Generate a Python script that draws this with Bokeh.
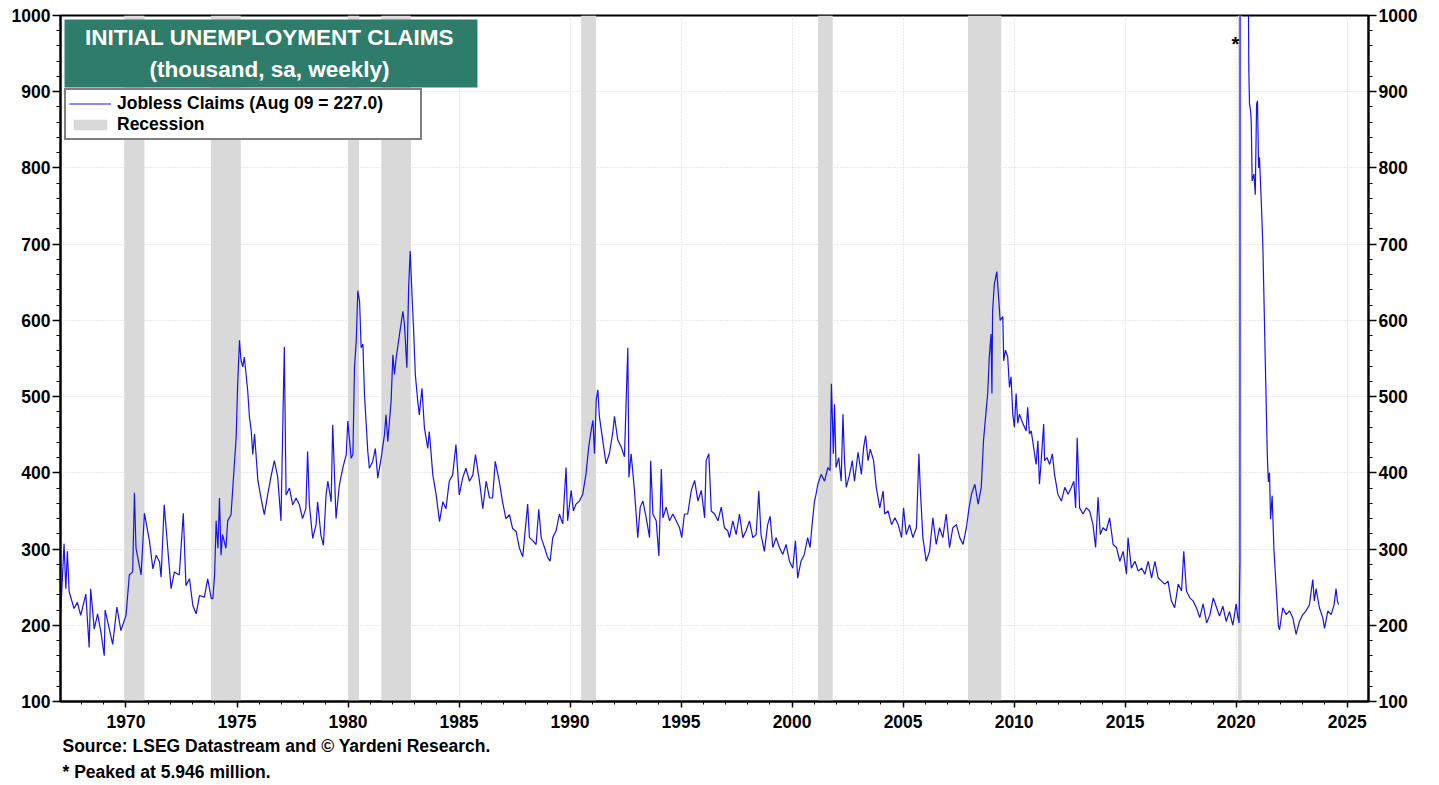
from bokeh.plotting import figure
from bokeh.models import (Range1d, LinearAxis, FixedTicker, BoxAnnotation, Label,
                          Legend, LegendItem, Title)
from bokeh.embed import file_html
from bokeh.resources import INLINE

# ---------------- data (thousand, sa, weekly) ----------------
claims_1967_1979 = [
    (1967.02, 205), (1967.06, 217), (1967.21, 307), (1967.29, 248), (1967.36, 297), (1967.44, 244),
    (1967.66, 222), (1967.81, 230), (1967.96, 213), (1968.19, 241), (1968.34, 171), (1968.41, 248),
    (1968.57, 195), (1968.72, 215), (1968.87, 191), (1969.02, 160), (1969.06, 220), (1969.25, 195),
    (1969.40, 175), (1969.59, 224), (1969.77, 193), (1970.00, 213), (1970.15, 266), (1970.30, 270),
    (1970.38, 374), (1970.45, 301), (1970.68, 266), (1970.83, 347), (1971.06, 310), (1971.21, 274),
    (1971.36, 292), (1971.51, 283), (1971.58, 263), (1971.72, 358), (1971.88, 301), (1972.03, 248),
    (1972.18, 270), (1972.40, 266), (1972.58, 347), (1972.70, 252), (1972.86, 261), (1973.01, 226),
    (1973.16, 215), (1973.31, 239), (1973.53, 237), (1973.68, 261), (1973.84, 235), (1973.91, 235),
    (1973.99, 266), (1974.06, 337), (1974.14, 301), (1974.21, 367), (1974.28, 292), (1974.35, 319),
    (1974.50, 301), (1974.58, 337), (1974.73, 345), (1974.88, 411), (1974.96, 446), (1975.03, 517),
    (1975.11, 574), (1975.18, 548), (1975.26, 539), (1975.33, 552), (1975.48, 508), (1975.56, 473),
    (1975.64, 455), (1975.71, 424), (1975.79, 451), (1975.94, 390), (1976.08, 367), (1976.23, 345),
    (1976.38, 371), (1976.53, 395), (1976.68, 416), (1976.83, 395), (1976.98, 337), (1977.13, 565),
    (1977.21, 371), (1977.36, 380), (1977.51, 358), (1977.66, 367), (1977.81, 358), (1977.95, 340),
    (1978.10, 353), (1978.18, 428), (1978.26, 358), (1978.41, 314), (1978.56, 332), (1978.63, 362),
    (1978.78, 318), (1978.89, 305), (1979.01, 371), (1979.09, 389), (1979.24, 362), (1979.31, 463),
    (1979.46, 340), (1979.61, 384), (1979.76, 406), (1979.92, 424),
]
claims_1980s = [
    (1979.99, 468), (1980.14, 419), (1980.22, 424), (1980.29, 538), (1980.37, 573), (1980.44, 639),
    (1980.52, 625), (1980.59, 564), (1980.67, 569), (1980.74, 503), (1980.82, 463), (1980.89, 428),
    (1980.96, 406), (1981.11, 415), (1981.23, 432), (1981.34, 393), (1981.49, 419), (1981.64, 450),
    (1981.71, 476), (1981.79, 441), (1981.94, 494), (1982.02, 555), (1982.09, 529), (1982.17, 551),
    (1982.32, 582), (1982.47, 612), (1982.54, 595), (1982.65, 538), (1982.73, 643), (1982.80, 691),
    (1982.88, 634), (1982.95, 590), (1983.03, 529), (1983.14, 494), (1983.21, 476), (1983.33, 511),
    (1983.44, 459), (1983.59, 432), (1983.66, 454), (1983.82, 397), (1983.97, 371), (1984.12, 336),
    (1984.27, 362), (1984.41, 353), (1984.56, 389), (1984.71, 397), (1984.86, 437), (1985.01, 371),
    (1985.16, 393), (1985.31, 406), (1985.47, 389), (1985.62, 397), (1985.74, 424), (1985.92, 389),
    (1986.07, 353), (1986.22, 389), (1986.37, 367), (1986.51, 367), (1986.63, 415), (1986.81, 389),
    (1986.96, 362), (1987.11, 340), (1987.27, 345), (1987.41, 327), (1987.57, 323), (1987.72, 301),
    (1987.87, 290), (1988.09, 359), (1988.17, 315), (1988.32, 311), (1988.47, 306), (1988.59, 352),
    (1988.70, 315), (1988.85, 302), (1988.99, 289), (1989.10, 284), (1989.22, 315), (1989.37, 324),
    (1989.52, 346), (1989.67, 333), (1989.82, 407), (1989.89, 337),
]
claims_1990s = [
    (1990.05, 377), (1990.15, 350), (1990.27, 359), (1990.42, 363), (1990.57, 372), (1990.72, 399),
    (1990.84, 434), (1990.95, 456), (1991.03, 469), (1991.10, 425), (1991.18, 496), (1991.25, 509),
    (1991.32, 474), (1991.47, 443), (1991.62, 412), (1991.77, 425), (1991.92, 452), (1992.00, 474),
    (1992.15, 443), (1992.30, 434), (1992.45, 421), (1992.60, 564), (1992.65, 394), (1992.75, 425),
    (1992.90, 377), (1993.05, 315), (1993.16, 355), (1993.28, 363), (1993.43, 341), (1993.58, 315),
    (1993.63, 416), (1993.73, 346), (1993.88, 337), (1994.00, 291), (1994.11, 405), (1994.18, 341),
    (1994.33, 355), (1994.48, 337), (1994.63, 346), (1994.78, 337), (1994.93, 328), (1995.03, 315),
    (1995.15, 346), (1995.30, 346), (1995.46, 377), (1995.61, 390), (1995.76, 363), (1995.91, 377),
    (1996.06, 341), (1996.13, 416), (1996.25, 425), (1996.36, 350), (1996.51, 346), (1996.66, 337),
    (1996.81, 355), (1996.95, 328), (1997.10, 324), (1997.18, 315), (1997.33, 337), (1997.48, 319),
    (1997.63, 346), (1997.78, 315), (1997.93, 324), (1998.08, 337), (1998.23, 315), (1998.38, 319),
    (1998.50, 376), (1998.60, 319), (1998.75, 297), (1998.90, 332), (1999.01, 343), (1999.13, 302),
    (1999.28, 315), (1999.43, 302), (1999.58, 293), (1999.73, 306), (1999.88, 284),
]
claims_2000s = [
    (2000.03, 275), (2000.15, 311), (2000.25, 262), (2000.40, 284), (2000.55, 293), (2000.70, 315),
    (2000.81, 302), (2000.90, 332), (2001.01, 363), (2001.08, 372), (2001.16, 385), (2001.31, 398),
    (2001.46, 389), (2001.61, 407), (2001.71, 403), (2001.77, 517), (2001.86, 425), (2001.91, 490),
    (2001.98, 407), (2002.10, 420), (2002.21, 389), (2002.29, 477), (2002.36, 416), (2002.44, 381),
    (2002.59, 398), (2002.71, 416), (2002.81, 389), (2002.97, 427), (2003.12, 398), (2003.22, 433),
    (2003.31, 449), (2003.42, 416), (2003.52, 431), (2003.67, 416), (2003.79, 381), (2003.95, 354),
    (2004.10, 376), (2004.17, 346), (2004.32, 350), (2004.48, 332), (2004.63, 341), (2004.78, 332),
    (2004.93, 315), (2005.02, 354), (2005.14, 319), (2005.29, 332), (2005.44, 315), (2005.60, 328),
    (2005.71, 425), (2005.77, 381), (2005.89, 315), (2006.04, 284), (2006.19, 297), (2006.34, 341),
    (2006.49, 306), (2006.64, 328), (2006.79, 315), (2006.94, 346), (2007.09, 302), (2007.24, 328),
    (2007.40, 332), (2007.55, 315), (2007.70, 306), (2007.85, 328), (2007.97, 354), (2008.08, 372),
    (2008.23, 385), (2008.38, 359), (2008.52, 381), (2008.62, 442), (2008.74, 482), (2008.81, 504),
    (2008.88, 552), (2008.96, 582), (2009.00, 504), (2009.03, 613), (2009.11, 648), (2009.22, 664),
    (2009.31, 626), (2009.37, 600), (2009.49, 605), (2009.53, 547), (2009.61, 561), (2009.71, 552),
    (2009.79, 512), (2009.86, 526), (2009.94, 477),
]
claims_2010s = [
    (2010.01, 460), (2010.09, 504), (2010.16, 465), (2010.24, 477), (2010.39, 465), (2010.54, 455),
    (2010.61, 486), (2010.69, 451), (2010.77, 455), (2010.92, 425), (2010.99, 411), (2011.07, 442),
    (2011.14, 385), (2011.22, 416), (2011.33, 464), (2011.37, 416), (2011.48, 420), (2011.60, 411),
    (2011.72, 425), (2011.82, 398), (2011.97, 372), (2012.13, 363), (2012.28, 381), (2012.43, 372),
    (2012.58, 381), (2012.69, 389), (2012.77, 354), (2012.84, 446), (2012.95, 354), (2013.10, 346),
    (2013.25, 354), (2013.40, 350), (2013.55, 332), (2013.67, 302), (2013.78, 368), (2013.88, 319),
    (2014.00, 328), (2014.15, 324), (2014.30, 341), (2014.46, 306), (2014.61, 302), (2014.76, 284),
    (2014.91, 297), (2015.06, 267), (2015.13, 315), (2015.28, 275), (2015.44, 284), (2015.59, 271),
    (2015.74, 275), (2015.89, 267), (2016.04, 284), (2016.19, 262), (2016.34, 284), (2016.49, 262),
    (2016.64, 258), (2016.78, 254), (2016.93, 258), (2017.08, 232), (2017.23, 223), (2017.39, 254),
    (2017.54, 245), (2017.64, 297), (2017.76, 245), (2017.91, 236), (2018.06, 232), (2018.21, 223),
    (2018.36, 210), (2018.51, 228), (2018.67, 203), (2018.82, 214), (2018.97, 236), (2019.12, 223),
    (2019.25, 212), (2019.40, 225), (2019.55, 205), (2019.70, 218), (2019.85, 200), (2020.00, 228),
    (2020.08, 210), (2020.13, 203),
]
claims_2020s = [
    (2020.17, 282), (2020.19, 3307), (2020.21, 5946), (2020.25, 4400), (2020.30, 3200),
    (2020.36, 2400), (2020.44, 1500), (2020.52, 1300), (2020.545, 1050), (2020.57, 928),
    (2020.60, 884), (2020.65, 875), (2020.68, 860), (2020.72, 783), (2020.80, 792), (2020.86, 765),
    (2020.92, 884), (2020.96, 888), (2021.01, 800), (2021.05, 814), (2021.13, 757), (2021.20, 700),
    (2021.40, 425), (2021.45, 388), (2021.50, 400), (2021.55, 339), (2021.62, 370), (2021.70, 300),
    (2021.80, 250), (2021.90, 200), (2021.95, 194), (2022.10, 223), (2022.25, 214), (2022.40, 219),
    (2022.55, 210), (2022.70, 188), (2022.85, 205), (2023.00, 214), (2023.15, 219), (2023.30, 227),
    (2023.45, 260), (2023.52, 232), (2023.60, 248), (2023.75, 223), (2023.90, 210), (2023.98, 196),
    (2024.13, 219), (2024.28, 214), (2024.41, 227), (2024.50, 248), (2024.56, 232), (2024.61, 227),
]
recession_start = [1969.92, 1973.83, 1980.00, 1981.50, 1990.50, 2001.17, 2007.92, 2020.08]
recession_end = [1970.83, 1975.17, 1980.50, 1982.83, 1991.17, 2001.83, 2009.42, 2020.25]
x_major_ticks = [1970, 1975, 1980, 1985, 1990, 1995, 2000, 2005, 2010, 2015, 2020, 2025]
x_minor_ticks = list(range(1967, 2027))
y_major_ticks = [100, 200, 300, 400, 500, 600, 700, 800, 900, 1000]
y_minor_ticks = list(range(100, 1001, 20))
x_start, x_end = 1967.05, 2025.96
y_start, y_end = 100, 1000

series_label = "Jobless Claims (Aug 09 = 227.0)"
recession_label = "Recession"
title_line1 = "INITIAL UNEMPLOYMENT CLAIMS"
title_line2 = "(thousand, sa, weekly)"
source_note = "Source: LSEG Datastream and \u00a9 Yardeni Research."
peak_note = "* Peaked at 5.946 million."

# ---------------- figure ----------------
FONT = "Liberation Sans"
all_points = claims_1967_1979 + claims_1980s + claims_1990s + claims_2000s + claims_2010s + claims_2020s
dates = [d for d, _ in all_points]
claims = [v for _, v in all_points]

p = figure(frame_width=1308, frame_height=686, output_backend="svg", toolbar_location=None,
           x_range=Range1d(x_start, x_end), y_range=Range1d(y_start, y_end),
           min_border_left=60, min_border_right=52, min_border_top=15, min_border_bottom=0,
           background_fill_color="white", border_fill_color="white")
p.outline_line_color = "black"
p.outline_line_width = 2

rec_r = p.quad(left=recession_start, right=recession_end, bottom=y_start, top=y_end,
               fill_color="#d9d9d9", line_color=None)
line_r = p.line(dates, claims, line_color="#1414f0", line_width=1.2)

# grids
for g in (p.xgrid, p.ygrid):
    g.grid_line_color = "#d2d2d2"
    g.grid_line_dash = "1 2"
    g.grid_line_width = 1
p.xgrid.ticker = FixedTicker(ticks=x_major_ticks)
p.ygrid.ticker = FixedTicker(ticks=y_major_ticks)

def style_axis(ax, major, minor):
    ax.ticker = FixedTicker(ticks=major, minor_ticks=minor)
    ax.axis_line_width = 2
    ax.axis_line_color = "black"
    ax.major_tick_line_color = "black"
    ax.major_tick_line_width = 1.5
    ax.minor_tick_line_color = "black"
    ax.minor_tick_line_width = 1
    ax.major_tick_in = 0
    ax.minor_tick_in = 0
    ax.major_label_text_font = FONT
    ax.major_label_text_font_style = "bold"
    ax.major_label_text_font_size = "17.5px"
    ax.major_label_text_color = "black"

style_axis(p.xaxis[0], x_major_ticks, x_minor_ticks)
p.xaxis.major_tick_out = 6
p.xaxis.minor_tick_out = 3
p.xaxis.major_label_standoff = 7

style_axis(p.yaxis[0], y_major_ticks, y_minor_ticks)
p.yaxis.major_tick_out = 8
p.yaxis.minor_tick_out = 4
p.yaxis.major_label_standoff = 2

right_axis = LinearAxis()
style_axis(right_axis, y_major_ticks, y_minor_ticks)
right_axis.major_tick_out = 8
right_axis.minor_tick_out = 4
right_axis.major_label_standoff = 2
p.add_layout(right_axis, "right")

# title box
p.add_layout(BoxAnnotation(left=1967.23, right=1985.83, top=994.7, bottom=905.5,
                           fill_color="#2e7d6b", fill_alpha=1, line_color=None))
p.add_layout(Label(x=1976.46, y=971.5, text=title_line1, text_align="center", text_baseline="middle",
                   text_color="white", text_font=FONT, text_font_style="bold", text_font_size="22.5px"))
p.add_layout(Label(x=1976.46, y=928.7, text=title_line2, text_align="center", text_baseline="middle",
                   text_color="white", text_font=FONT, text_font_style="bold", text_font_size="22.5px"))

# peak marker
p.add_layout(Label(x=2019.97, y=963, text="*", text_align="center", text_baseline="middle",
                   text_color="black", text_font=FONT, text_font_style="bold", text_font_size="20px"))

# legend
legend = Legend(items=[LegendItem(label=series_label, renderers=[line_r]),
                       LegendItem(label=recession_label, renderers=[rec_r])],
                location=(4, 561), orientation="vertical")
legend.border_line_color = "black"
legend.border_line_width = 2
legend.background_fill_color = "white"
legend.background_fill_alpha = 1
legend.padding = 3
legend.spacing = 0
legend.margin = 0
legend.glyph_width = 42
legend.glyph_height = 13
legend.label_height = 21
legend.label_width = 300
legend.label_standoff = 6
legend.label_text_font = FONT
legend.label_text_font_style = "bold"
legend.label_text_font_size = "17.5px"
legend.label_text_color = "black"
p.add_layout(legend)

# notes below
p.add_layout(Title(text=source_note, align="left", offset=2, standoff=6, text_font=FONT,
                   text_font_style="bold", text_font_size="17.5px", text_color="black"), "below")
p.add_layout(Title(text=peak_note, align="left", offset=2, standoff=3, text_font=FONT,
                   text_font_style="bold", text_font_size="17.5px", text_color="black"), "below")

open("out.html", "w").write(file_html(p, INLINE))
